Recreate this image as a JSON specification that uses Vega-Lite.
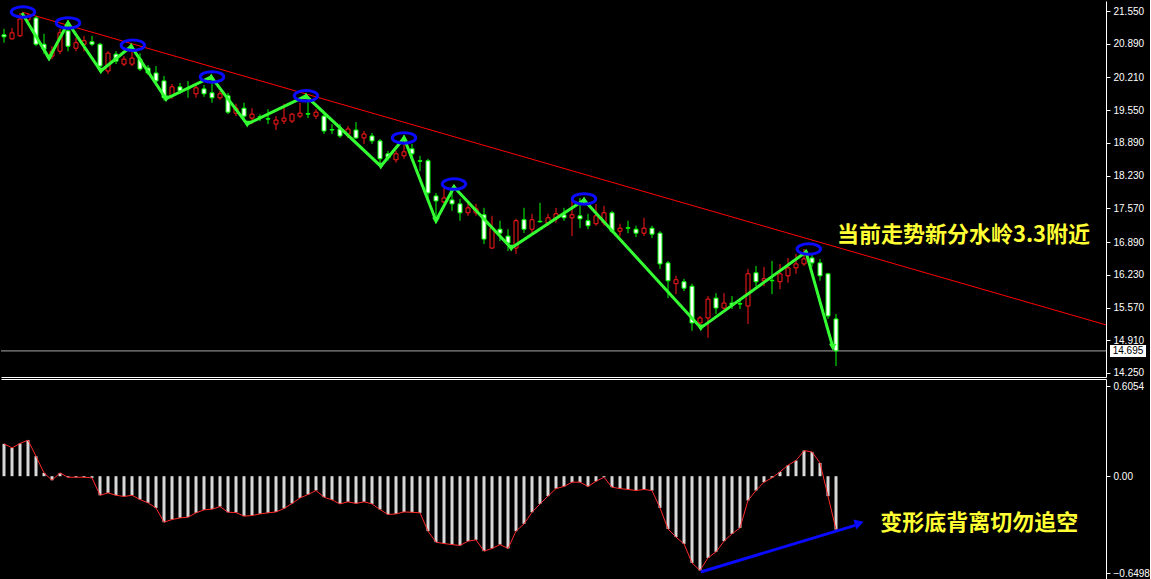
{
"$schema": "https://vega.github.io/schema/vega-lite/v6.json",
"background": "black",
"padding": 0,
"spacing": 2,
"bounds": "flush",
"config": {"view": {"stroke": null}, "axis": {"labelOverlap": false, "labelBound": false}},
"datasets": {
"candles": [
{"i":0,"o":21.07,"h":21.19,"l":20.91,"c":21.03},
{"i":1,"o":20.99,"h":21.21,"l":20.97,"c":21.11},
{"i":2,"o":21.05,"h":21.51,"l":21.03,"c":21.39},
{"i":3,"o":21.37,"h":21.49,"l":21.31,"c":21.43},
{"i":4,"o":21.41,"h":21.45,"l":20.84,"c":20.88},
{"i":5,"o":20.88,"h":21.09,"l":20.68,"c":20.78},
{"i":6,"o":20.64,"h":20.84,"l":20.58,"c":20.74},
{"i":7,"o":20.74,"h":21.19,"l":20.68,"c":21.11},
{"i":8,"o":21.15,"h":21.31,"l":20.74,"c":20.84},
{"i":9,"o":20.80,"h":21.01,"l":20.74,"c":20.91},
{"i":10,"o":20.88,"h":21.05,"l":20.74,"c":20.95},
{"i":11,"o":20.93,"h":21.05,"l":20.84,"c":20.88},
{"i":12,"o":20.88,"h":20.91,"l":20.34,"c":20.44},
{"i":13,"o":20.34,"h":20.74,"l":20.28,"c":20.70},
{"i":14,"o":20.68,"h":20.74,"l":20.48,"c":20.54},
{"i":15,"o":20.48,"h":20.64,"l":20.44,"c":20.58},
{"i":16,"o":20.48,"h":20.84,"l":20.44,"c":20.60},
{"i":17,"o":20.58,"h":20.70,"l":20.34,"c":20.38},
{"i":18,"o":20.40,"h":20.46,"l":20.26,"c":20.30},
{"i":19,"o":20.30,"h":20.44,"l":20.10,"c":20.14},
{"i":20,"o":20.14,"h":20.24,"l":19.74,"c":19.80},
{"i":21,"o":19.84,"h":20.08,"l":19.78,"c":20.02},
{"i":22,"o":20.02,"h":20.10,"l":19.88,"c":19.94},
{"i":23,"o":19.99,"h":20.14,"l":19.80,"c":19.98},
{"i":24,"o":19.88,"h":20.08,"l":19.80,"c":20.00},
{"i":25,"o":19.98,"h":20.06,"l":19.82,"c":19.88},
{"i":26,"o":19.90,"h":20.20,"l":19.70,"c":19.80},
{"i":27,"o":19.80,"h":19.94,"l":19.76,"c":19.88},
{"i":28,"o":19.84,"h":19.90,"l":19.47,"c":19.51},
{"i":29,"o":19.49,"h":19.68,"l":19.43,"c":19.59},
{"i":30,"o":19.59,"h":19.70,"l":19.37,"c":19.43},
{"i":31,"o":19.39,"h":19.59,"l":19.27,"c":19.47},
{"i":32,"o":19.42,"h":19.47,"l":19.33,"c":19.41},
{"i":33,"o":19.38,"h":19.57,"l":19.27,"c":19.37},
{"i":34,"o":19.27,"h":19.43,"l":19.15,"c":19.35},
{"i":35,"o":19.33,"h":19.68,"l":19.27,"c":19.39},
{"i":36,"o":19.33,"h":19.49,"l":19.29,"c":19.47},
{"i":37,"o":19.43,"h":19.70,"l":19.39,"c":19.49},
{"i":38,"o":19.48,"h":19.84,"l":19.39,"c":19.47},
{"i":39,"o":19.43,"h":19.57,"l":19.37,"c":19.51},
{"i":40,"o":19.43,"h":19.47,"l":19.07,"c":19.13},
{"i":41,"o":19.16,"h":19.27,"l":19.07,"c":19.15},
{"i":42,"o":19.17,"h":19.27,"l":18.99,"c":19.03},
{"i":43,"o":19.07,"h":19.23,"l":18.99,"c":19.17},
{"i":44,"o":19.15,"h":19.31,"l":18.97,"c":18.99},
{"i":45,"o":18.99,"h":19.13,"l":18.87,"c":19.07},
{"i":46,"o":19.03,"h":19.09,"l":18.87,"c":18.93},
{"i":47,"o":18.93,"h":18.97,"l":18.40,"c":18.57},
{"i":48,"o":18.67,"h":18.73,"l":18.53,"c":18.59},
{"i":49,"o":18.55,"h":18.73,"l":18.49,"c":18.67},
{"i":50,"o":18.63,"h":18.93,"l":18.57,"c":18.71},
{"i":51,"o":18.77,"h":18.87,"l":18.59,"c":18.67},
{"i":52,"o":18.53,"h":18.63,"l":18.32,"c":18.52},
{"i":53,"o":18.53,"h":18.57,"l":17.78,"c":17.88},
{"i":54,"o":17.82,"h":17.88,"l":17.32,"c":17.72},
{"i":55,"o":17.70,"h":17.98,"l":17.66,"c":17.78},
{"i":56,"o":17.74,"h":18.00,"l":17.52,"c":17.66},
{"i":57,"o":17.66,"h":17.76,"l":17.32,"c":17.48},
{"i":58,"o":17.48,"h":17.68,"l":17.42,"c":17.58},
{"i":59,"o":17.48,"h":17.66,"l":17.42,"c":17.56},
{"i":60,"o":17.44,"h":17.58,"l":16.85,"c":16.95},
{"i":61,"o":16.77,"h":17.42,"l":16.75,"c":17.17},
{"i":62,"o":17.15,"h":17.32,"l":16.91,"c":17.07},
{"i":63,"o":17.01,"h":17.15,"l":16.71,"c":16.87},
{"i":64,"o":16.77,"h":17.36,"l":16.65,"c":17.32},
{"i":65,"o":17.34,"h":17.58,"l":17.07,"c":17.15},
{"i":66,"o":17.15,"h":17.46,"l":17.05,"c":17.34},
{"i":67,"o":17.31,"h":17.68,"l":17.28,"c":17.30},
{"i":68,"o":17.28,"h":17.46,"l":17.22,"c":17.38},
{"i":69,"o":17.36,"h":17.58,"l":17.28,"c":17.46},
{"i":70,"o":17.44,"h":17.58,"l":17.32,"c":17.38},
{"i":71,"o":17.38,"h":17.80,"l":17.01,"c":17.44},
{"i":72,"o":17.42,"h":17.78,"l":17.17,"c":17.36},
{"i":73,"o":17.32,"h":17.46,"l":17.15,"c":17.22},
{"i":74,"o":17.26,"h":17.66,"l":17.22,"c":17.42},
{"i":75,"o":17.28,"h":17.62,"l":17.22,"c":17.48},
{"i":76,"o":17.48,"h":17.52,"l":17.07,"c":17.11},
{"i":77,"o":17.11,"h":17.26,"l":17.01,"c":17.17},
{"i":78,"o":17.18,"h":17.32,"l":17.07,"c":17.17},
{"i":79,"o":17.15,"h":17.22,"l":16.99,"c":17.07},
{"i":80,"o":17.07,"h":17.38,"l":17.01,"c":17.17},
{"i":81,"o":17.17,"h":17.22,"l":16.97,"c":17.05},
{"i":82,"o":17.07,"h":17.11,"l":16.35,"c":16.45},
{"i":83,"o":16.47,"h":16.51,"l":15.76,"c":16.11},
{"i":84,"o":16.05,"h":16.21,"l":15.84,"c":16.13},
{"i":85,"o":16.09,"h":16.15,"l":15.90,"c":15.96},
{"i":86,"o":16.00,"h":16.05,"l":15.10,"c":15.26},
{"i":87,"o":15.26,"h":15.40,"l":15.14,"c":15.36},
{"i":88,"o":15.36,"h":15.80,"l":14.96,"c":15.74},
{"i":89,"o":15.76,"h":15.86,"l":15.44,"c":15.56},
{"i":90,"o":15.56,"h":15.86,"l":15.50,"c":15.66},
{"i":91,"o":15.66,"h":15.80,"l":15.54,"c":15.62},
{"i":92,"o":15.65,"h":15.76,"l":15.54,"c":15.64},
{"i":93,"o":15.60,"h":16.35,"l":15.24,"c":16.25},
{"i":94,"o":16.27,"h":16.41,"l":16.00,"c":16.09},
{"i":95,"o":16.11,"h":16.39,"l":16.00,"c":16.15},
{"i":96,"o":16.12,"h":16.51,"l":15.84,"c":16.11},
{"i":97,"o":16.09,"h":16.45,"l":15.94,"c":16.25},
{"i":98,"o":16.21,"h":16.57,"l":16.07,"c":16.37},
{"i":99,"o":16.37,"h":16.65,"l":16.25,"c":16.45},
{"i":100,"o":16.45,"h":16.75,"l":16.41,"c":16.55},
{"i":101,"o":16.57,"h":16.67,"l":16.39,"c":16.47},
{"i":102,"o":16.47,"h":16.55,"l":16.11,"c":16.21},
{"i":103,"o":16.25,"h":16.27,"l":15.34,"c":15.40},
{"i":104,"o":15.34,"h":15.44,"l":14.39,"c":14.695}
],
"macd": [
{"i":0,"m":0.217},{"i":1,"m":0.19},{"i":2,"m":0.22},{"i":3,"m":0.242},{"i":4,"m":0.134},
{"i":5,"m":0.022},{"i":6,"m":-0.027},{"i":7,"m":0.022},{"i":8,"m":-0.007},{"i":9,"m":-0.007},
{"i":10,"m":-0.007},{"i":11,"m":-0.011},{"i":12,"m":-0.128},{"i":13,"m":-0.112},{"i":14,"m":-0.128},
{"i":15,"m":-0.136},{"i":16,"m":-0.128},{"i":17,"m":-0.157},{"i":18,"m":-0.179},{"i":19,"m":-0.213},
{"i":20,"m":-0.309},{"i":21,"m":-0.291},{"i":22,"m":-0.28},{"i":23,"m":-0.275},{"i":24,"m":-0.246},
{"i":25,"m":-0.226},{"i":26,"m":-0.221},{"i":27,"m":-0.204},{"i":28,"m":-0.242},{"i":29,"m":-0.244},
{"i":30,"m":-0.268},{"i":31,"m":-0.264},{"i":32,"m":-0.253},{"i":33,"m":-0.246},{"i":34,"m":-0.24},
{"i":35,"m":-0.217},{"i":36,"m":-0.183},{"i":37,"m":-0.146},{"i":38,"m":-0.123},{"i":39,"m":-0.096},
{"i":40,"m":-0.141},{"i":41,"m":-0.159},{"i":42,"m":-0.186},{"i":43,"m":-0.172},{"i":44,"m":-0.183},
{"i":45,"m":-0.172},{"i":46,"m":-0.186},{"i":47,"m":-0.224},{"i":48,"m":-0.257},{"i":49,"m":-0.253},
{"i":50,"m":-0.24},{"i":51,"m":-0.242},{"i":52,"m":-0.246},{"i":53,"m":-0.369},{"i":54,"m":-0.443},
{"i":55,"m":-0.452},{"i":56,"m":-0.459},{"i":57,"m":-0.465},{"i":58,"m":-0.436},{"i":59,"m":-0.427},
{"i":60,"m":-0.503},{"i":61,"m":-0.485},{"i":62,"m":-0.459},{"i":63,"m":-0.485},{"i":64,"m":-0.369},
{"i":65,"m":-0.32},{"i":66,"m":-0.242},{"i":67,"m":-0.186},{"i":68,"m":-0.134},{"i":69,"m":-0.083},
{"i":70,"m":-0.069},{"i":71,"m":-0.04},{"i":72,"m":-0.04},{"i":73,"m":-0.069},{"i":74,"m":-0.034},
{"i":75,"m":-0.007},{"i":76,"m":-0.074},{"i":77,"m":-0.083},{"i":78,"m":-0.089},{"i":79,"m":-0.096},
{"i":80,"m":-0.089},{"i":81,"m":-0.096},{"i":82,"m":-0.213},{"i":83,"m":-0.354},{"i":84,"m":-0.409},
{"i":85,"m":-0.454},{"i":86,"m":-0.582},{"i":87,"m":-0.633},{"i":88,"m":-0.548},{"i":89,"m":-0.508},
{"i":90,"m":-0.436},{"i":91,"m":-0.387},{"i":92,"m":-0.347},{"i":93,"m":-0.163},{"i":94,"m":-0.096},
{"i":95,"m":-0.04},{"i":96,"m":-0.011},{"i":97,"m":0.029},{"i":98,"m":0.074},{"i":99,"m":0.105},
{"i":100,"m":0.172},{"i":101,"m":0.163},{"i":102,"m":0.089},{"i":103,"m":-0.134},{"i":104,"m":-0.358}
],
"zigzag": [
{"i":2.25,"p":21.51,"k":"start"},{"i":5.63,"p":20.60,"k":"low"},{"i":8.0,"p":21.31,"k":"high"},
{"i":12.1,"p":20.34,"k":"low"},{"i":15.9,"p":20.84,"k":"high"},{"i":20.25,"p":19.78,"k":"low"},
{"i":25.9,"p":20.22,"k":"high"},{"i":30.4,"p":19.27,"k":"low"},{"i":37.75,"p":19.84,"k":"high"},
{"i":47.1,"p":18.42,"k":"low"},{"i":50.0,"p":18.99,"k":"high"},{"i":54.0,"p":17.32,"k":"low"},
{"i":56.25,"p":18.00,"k":"high"},{"i":63.4,"p":16.77,"k":"low"},{"i":72.5,"p":17.74,"k":"high"},
{"i":87.1,"p":15.16,"k":"low"},{"i":100.25,"p":16.69,"k":"high"},{"i":103.6,"p":14.77,"k":"low"}
],
"ellipses": [
{"i":2.375,"p":21.53},{"i":8.0,"p":21.31},{"i":16.1,"p":20.86},{"i":26.0,"p":20.22},
{"i":37.75,"p":19.84},{"i":50.0,"p":18.99},{"i":56.25,"p":18.06},{"i":72.5,"p":17.76},{"i":100.6,"p":16.75}
],
"trend": [{"i":2.25,"p":21.53},{"i":137.75,"p":15.22}],
"last": [{"p":14.695,"i0":138.25,"i1":142.75,"pl":14.573,"ph":14.815,"ic":140.5,"t":"14.695"}],
"note1": [{"i":119.94,"p":17.03,"t":"当前走势新分水岭3.3附近"}],
"note2": [{"i":121.9,"v":-0.314,"t":"变形底背离切勿追空"}],
"arrow": [{"i":87.1,"v":-0.643},{"i":106.4,"v":-0.33}],
"arrowHead": [{"i":106.9,"v":-0.315}]
},
"vconcat": [
{
"width": 1105,
"height": 376,
"layer": [
{
"data": {"name": "last"},
"mark": {"type": "rule", "color": "#a8a8a8", "strokeWidth": 1},
"encoding": {
"y": {"field": "p", "type": "quantitative", "title": null,
"scale": {"domain": [14.169, 21.752], "nice": false, "zero": false},
"axis": {"orient": "right", "values": [21.55,20.89,20.21,19.55,18.89,18.23,17.57,16.89,16.23,15.57,14.91,14.25],
"tickCount": 30,
"format": ".3f", "domainColor": "white", "tickColor": "white", "labelColor": "white", "tickSize": 4,
"labelFont": "Liberation Sans", "labelFontSize": 10, "labelPadding": 3, "grid": false, "labelOverlap": false, "labelBound": false}}
}
},
{
"data": {"name": "trend"},
"mark": {"type": "line", "color": "#ff0000", "strokeWidth": 1},
"encoding": {
"x": {"field": "i", "type": "quantitative", "title": null,
"scale": {"domain": [-0.375, 137.75], "nice": false, "zero": false, "padding": 0},
"axis": {"orient": "bottom", "domain": true, "domainColor": "white", "ticks": false, "labels": false, "grid": false}},
"y": {"field": "p", "type": "quantitative", "title": null}
}
},
{
"data": {"name": "candles"},
"mark": {"type": "rule", "strokeWidth": 1},
"encoding": {
"x": {"field": "i", "type": "quantitative", "title": null},
"y": {"field": "l", "type": "quantitative", "title": null},
"y2": {"field": "h"},
"color": {"condition": {"test": "datum.c < datum.o", "value": "#00ff00"}, "value": "#ff1a1a"}
}
},
{
"data": {"name": "candles"},
"mark": {"type": "bar", "size": 4, "strokeWidth": 1},
"encoding": {
"x": {"field": "i", "type": "quantitative", "title": null},
"y": {"field": "o", "type": "quantitative", "title": null},
"y2": {"field": "c"},
"fill": {"condition": {"test": "datum.c < datum.o", "value": "#ffffff"}, "value": "#000000"},
"stroke": {"condition": {"test": "datum.c < datum.o", "value": "#00ff00"}, "value": "#ff1a1a"}
}
},
{
"data": {"name": "zigzag"},
"mark": {"type": "line", "color": "#33ff33", "strokeWidth": 3},
"encoding": {
"x": {"field": "i", "type": "quantitative", "title": null},
"y": {"field": "p", "type": "quantitative", "title": null}
}
},
{
"data": {"name": "zigzag"},
"transform": [{"filter": "datum.k != 'start'"}],
"mark": {"type": "point", "filled": true, "color": "#33ff33", "size": 60, "opacity": 1},
"encoding": {
"x": {"field": "i", "type": "quantitative", "title": null},
"y": {"field": "p", "type": "quantitative", "title": null},
"shape": {"field": "k", "type": "nominal", "legend": null,
"scale": {"domain": ["high", "low"], "range": ["triangle-up", "triangle-down"]}}
}
},
{
"data": {"name": "ellipses"},
"mark": {"type": "point", "filled": false, "color": "#0a0aff", "strokeWidth": 3, "size": 550, "opacity": 1,
"shape": "M-1,0A1,0.45,0,1,0,1,0A1,0.45,0,1,0,-1,0Z"},
"encoding": {
"x": {"field": "i", "type": "quantitative", "title": null},
"y": {"field": "p", "type": "quantitative", "title": null}
}
},
{
"data": {"name": "note1"},
"mark": {"type": "text", "font": "Noto Sans CJK SC", "fontWeight": "bold", "fontSize": 22, "color": "#ffff33", "align": "center", "baseline": "middle"},
"encoding": {
"x": {"field": "i", "type": "quantitative", "title": null},
"y": {"field": "p", "type": "quantitative", "title": null},
"text": {"field": "t"}
}
},
{
"data": {"name": "last"},
"mark": {"type": "rect", "fill": "white", "clip": false},
"encoding": {
"x": {"field": "i0", "type": "quantitative", "title": null},
"x2": {"field": "i1"},
"y": {"field": "pl", "type": "quantitative", "title": null},
"y2": {"field": "ph"}
}
},
{
"data": {"name": "last"},
"mark": {"type": "text", "font": "Liberation Sans", "fontSize": 10, "color": "black", "align": "center", "baseline": "middle", "clip": false},
"encoding": {
"x": {"field": "ic", "type": "quantitative", "title": null},
"y": {"field": "p", "type": "quantitative", "title": null},
"text": {"field": "t"}
}
}
]
},
{
"width": 1105,
"height": 201,
"layer": [
{
"data": {"name": "macd"},
"mark": {"type": "bar", "size": 3, "color": "#d8d8d8"},
"encoding": {
"x": {"field": "i", "type": "quantitative", "title": null,
"scale": {"domain": [-0.375, 137.75], "nice": false, "zero": false, "padding": 0},
"axis": {"orient": "top", "domain": true, "domainColor": "white", "ticks": false, "labels": false, "grid": false}},
"y": {"field": "m", "type": "quantitative", "title": null,
"scale": {"domain": [-0.6967, 0.6524], "nice": false, "zero": false},
"axis": {"orient": "right", "values": [0.6054, 0, -0.6498], "tickCount": 10,
"labelExpr": "datum.value == 0 ? '0.00' : format(datum.value, '.4f')",
"domainColor": "white", "tickColor": "white", "labelColor": "white", "tickSize": 4,
"labelFont": "Liberation Sans", "labelFontSize": 10, "labelPadding": 3, "grid": false, "labelOverlap": false, "labelBound": false}},
"y2": {"datum": 0}
}
},
{
"data": {"name": "macd"},
"mark": {"type": "line", "color": "#ff2a2a", "strokeWidth": 1},
"encoding": {
"x": {"field": "i", "type": "quantitative", "title": null},
"y": {"field": "m", "type": "quantitative", "title": null}
}
},
{
"data": {"name": "arrow"},
"mark": {"type": "line", "color": "#0a0aff", "strokeWidth": 3},
"encoding": {
"x": {"field": "i", "type": "quantitative", "title": null},
"y": {"field": "v", "type": "quantitative", "title": null}
}
},
{
"data": {"name": "arrowHead"},
"mark": {"type": "point", "shape": "triangle-right", "filled": true, "color": "#0a0aff", "size": 110, "angle": -17, "opacity": 1},
"encoding": {
"x": {"field": "i", "type": "quantitative", "title": null},
"y": {"field": "v", "type": "quantitative", "title": null}
}
},
{
"data": {"name": "note2"},
"mark": {"type": "text", "font": "Noto Sans CJK SC", "fontWeight": "bold", "fontSize": 22, "color": "#ffff33", "align": "center", "baseline": "middle"},
"encoding": {
"x": {"field": "i", "type": "quantitative", "title": null},
"y": {"field": "v", "type": "quantitative", "title": null},
"text": {"field": "t"}
}
}
]
}
]
}
